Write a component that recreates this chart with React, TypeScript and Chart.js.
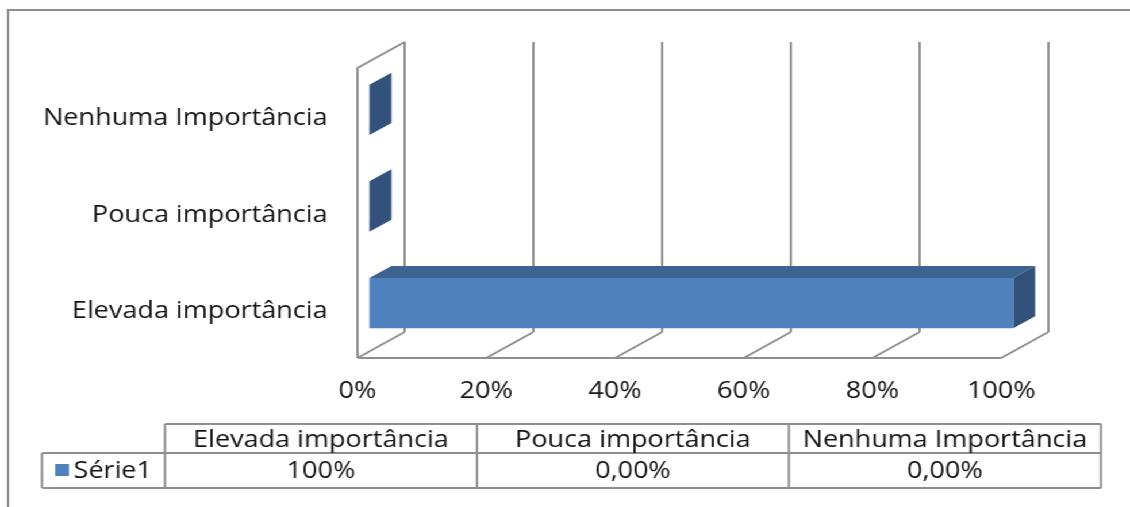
import React, { useEffect, useRef } from "react";
import { Chart, registerables } from "chart.js";

Chart.register(...registerables);

// ---- data ----
const categories = ["Elevada importância", "Pouca importância", "Nenhuma Importância"];
const seriesName = "Série1";
const seriesValues = [1, 0, 0];
const tableLabels = ["100%", "0,00%", "0,00%"];
const xTickValues = [0, 0.2, 0.4, 0.6, 0.8, 1];

// ---- layout / style ----
const PAGE_W = 1130;
const PAGE_H = 507;
const W = 983; // logical canvas width, stretched horizontally to PAGE_W
const FONT = { family: "'Open Sans', 'Noto Sans', sans-serif", size: 23.5 };
const FONT_CSS = "23.5px 'Open Sans', 'Noto Sans', sans-serif";
const TEXT = "#141414";
const LINE = "#8f8f8f";
const FRONT = "#4f81bd";
const TOP = "#3d6491";
const SIDE = "#32527c";
const DX = 41; // wall depth
const DY = -26;
const BX = 10.4; // bar front offset
const BY = -6.5;
const BDX = 19.1; // bar depth
const BDY = -12;

const depthPlugin = {
  id: "depth3d",
  beforeDatasetsDraw(chart: any) {
    const { ctx, chartArea: a, scales } = chart;
    const xs = scales.x;
    ctx.save();
    ctx.strokeStyle = LINE;
    ctx.lineWidth = 2;
    ctx.beginPath();
    for (const v of xTickValues) {
      const px = xs.getPixelForValue(v);
      ctx.moveTo(px + DX, a.top + DY);
      ctx.lineTo(px + DX, a.bottom + DY);
      ctx.moveTo(px, a.bottom);
      ctx.lineTo(px + DX, a.bottom + DY);
    }
    ctx.moveTo(a.left, a.bottom);
    ctx.lineTo(xs.getPixelForValue(1), a.bottom);
    ctx.moveTo(a.left, a.bottom);
    ctx.lineTo(a.left, a.top);
    ctx.lineTo(a.left + DX, a.top + DY);
    ctx.stroke();

    ctx.translate(BX, BY);
    const meta = chart.getDatasetMeta(0);
    meta.data.forEach((el: any) => {
      const { x, y, base, height } = el.getProps(["x", "y", "base", "height"], true);
      const t = y - height / 2;
      const b = y + height / 2;
      if (x - base > 0.5) {
        ctx.fillStyle = TOP;
        ctx.beginPath();
        ctx.moveTo(base, t);
        ctx.lineTo(x, t);
        ctx.lineTo(x + BDX, t + BDY);
        ctx.lineTo(base + BDX, t + BDY);
        ctx.closePath();
        ctx.fill();
      }
      ctx.fillStyle = SIDE;
      ctx.beginPath();
      ctx.moveTo(x, t);
      ctx.lineTo(x + BDX, t + BDY);
      ctx.lineTo(x + BDX, b + BDY);
      ctx.lineTo(x, b);
      ctx.closePath();
      ctx.fill();
    });
    ctx.restore();
    ctx.save();
    ctx.translate(BX, BY);
  },
  afterDatasetsDraw(chart: any) {
    chart.ctx.restore();
  },
};

const tablePlugin = {
  id: "dataTable",
  afterDraw(chart: any) {
    const { ctx } = chart;
    ctx.save();
    ctx.strokeStyle = LINE;
    ctx.lineWidth = 2;
    // outer frame (continues beyond the picture)
    ctx.beginPath();
    ctx.moveTo(7, PAGE_H + 5);
    ctx.lineTo(7, 10);
    ctx.lineTo(W + 5, 10);
    ctx.stroke();

    const x0 = 36.5;
    const x1 = 143.5;
    const colW = 271.4;
    const yTop = 424;
    const yMid = 453;
    const yBot = 488;
    const xEnd = x1 + colW * categories.length;
    ctx.beginPath();
    ctx.moveTo(x1, yTop);
    ctx.lineTo(xEnd, yTop);
    ctx.moveTo(x0, yMid);
    ctx.lineTo(xEnd, yMid);
    ctx.moveTo(x0, yBot);
    ctx.lineTo(xEnd, yBot);
    ctx.moveTo(x0, yMid);
    ctx.lineTo(x0, yBot);
    for (let i = 0; i <= categories.length; i++) {
      const cx = x1 + colW * i;
      ctx.moveTo(cx, yTop);
      ctx.lineTo(cx, yBot);
    }
    ctx.stroke();

    ctx.font = FONT_CSS;
    ctx.fillStyle = TEXT;
    ctx.textAlign = "center";
    ctx.textBaseline = "middle";
    categories.forEach((c, i) => {
      const cx = x1 + colW * (i + 0.5);
      ctx.fillText(c, cx, (yTop + yMid) / 2 + 1.5);
      ctx.fillText(tableLabels[i], cx, (yMid + yBot) / 2 + 1);
    });
    ctx.fillStyle = FRONT;
    ctx.fillRect(48, 464, 12, 12);
    ctx.fillStyle = TEXT;
    ctx.textAlign = "left";
    ctx.fillText(seriesName, 64, (yMid + yBot) / 2 + 1);
    ctx.restore();
  },
};

export default function App() {
  const ref = useRef<HTMLCanvasElement>(null);
  useEffect(() => {
    const chart = new Chart(ref.current as HTMLCanvasElement, {
      type: "bar",
      data: {
        labels: categories,
        datasets: [
          {
            label: seriesName,
            data: seriesValues,
            backgroundColor: FRONT,
            borderWidth: 0,
            barPercentage: 0.52,
            categoryPercentage: 1,
            clip: false as any,
          },
        ],
      },
      options: {
        indexAxis: "y",
        responsive: false,
        animation: false,
        devicePixelRatio: 1,
        layout: { padding: { left: 0, right: 112, top: 68, bottom: 99 } },
        plugins: { legend: { display: false }, tooltip: { enabled: false } },
        scales: {
          x: {
            min: 0,
            max: 1,
            afterBuildTicks: (s: any) => {
              s.ticks = xTickValues.map((v) => ({ value: v }));
            },
            ticks: {
              font: FONT,
              color: TEXT,
              padding: 19,
              maxRotation: 0,
              autoSkip: false,
              callback: (v: any) => Math.round(Number(v) * 100) + "%",
            },
            grid: { display: false, drawTicks: false, tickLength: 0 },
            border: { display: false },
            afterFit: (s: any) => {
              s.height = 50;
            },
          },
          y: {
            reverse: true,
            ticks: { font: FONT, color: TEXT, padding: 26, labelOffset: 2 },
            grid: { display: false, drawTicks: false, tickLength: 0 },
            border: { display: false },
            afterFit: (s: any) => {
              s.width = 311;
            },
          },
        },
      } as any,
      plugins: [depthPlugin, tablePlugin],
    });
    return () => chart.destroy();
  }, []);

  return (
    <div
      style={{
        position: "absolute",
        left: 0,
        top: 0,
        width: W,
        height: PAGE_H,
        background: "#fff",
        transform: `scaleX(${PAGE_W / W})`,
        transformOrigin: "0 0",
      }}
    >
      <canvas ref={ref} width={W} height={PAGE_H} style={{ display: "block", width: W, height: PAGE_H }} />
    </div>
  );
}
